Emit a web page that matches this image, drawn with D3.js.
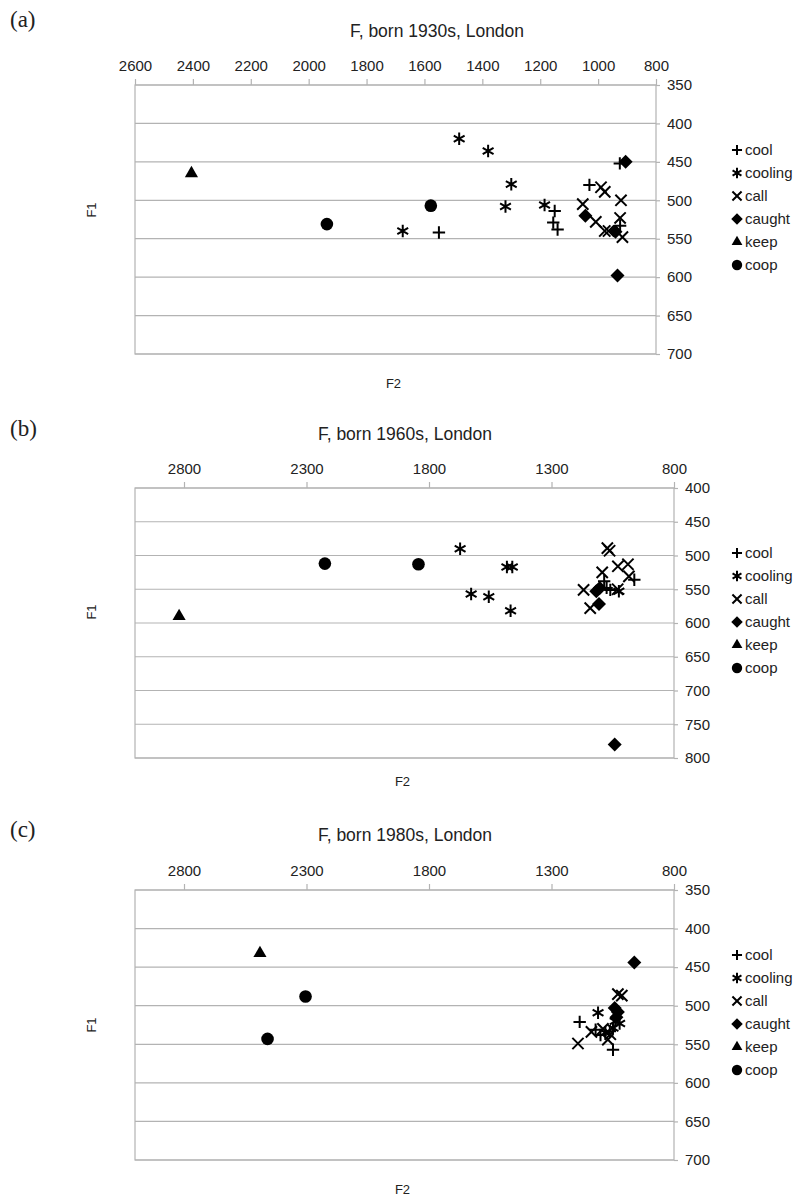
<!DOCTYPE html>
<html>
<head>
<meta charset="utf-8">
<script src="https://cdn.jsdelivr.net/npm/d3@7"></script>
<style>
  body { margin: 0; background: #fff; }
  text { font-family: "Liberation Sans", Arial, sans-serif; fill: #222; }
</style>
</head>
<body>
<script>
// Page size
const W = 803, H = 1201;

// Legend order
const categories = ["cool", "cooling", "call", "caught", "keep", "coop"];

// Panel titles and letters
const titles = ["F, born 1930s, London", "F, born 1960s, London", "F, born 1980s, London"];
const letters = ["(a)", "(b)", "(c)"];

// Tick labels
const ticksF2a = [2600, 2400, 2200, 2000, 1800, 1600, 1400, 1200, 1000, 800];
const ticksF2bc = [2800, 2300, 1800, 1300, 800];
const ticksF1a = [350, 400, 450, 500, 550, 600, 650, 700];
const ticksF1b = [400, 450, 500, 550, 600, 650, 700, 750, 800];
const ticksF1c = [350, 400, 450, 500, 550, 600, 650, 700];

// (a) 1930s  [F2, F1]
const aCool = [[1550, 542], [1150, 514], [1155, 529], [1140, 538], [1030, 480], [925, 452], [924, 533]];
const aCooling = [[1675, 540], [1480, 420], [1380, 436], [1300, 479], [1320, 508], [1185, 506]];
const aCall = [[1053, 505], [990, 483], [977, 489], [921, 500], [1008, 528], [977, 540], [964, 540], [924, 523], [916, 548]];
const aCaught = [[1044, 520], [905, 450], [940, 541], [933, 598]];
const aKeep = [[2405, 465]];
const aCoop = [[1937, 531], [1578, 507]];

// (b) 1960s
const bCool = [[1085, 538], [1075, 548], [1060, 551], [962, 536]];
const bCooling = [[1673, 490], [1482, 517], [1460, 517], [1628, 557], [1556, 561], [1467, 582], [1025, 553]];
const bCall = [[1072, 489], [1063, 493], [1029, 516], [988, 513], [984, 531], [1093, 525], [1169, 551], [1142, 578], [1030, 550]];
const bCaught = [[1117, 553], [1103, 548], [1106, 572], [1042, 780]];
const bKeep = [[2820, 590]];
const bCoop = [[2225, 512], [1843, 513]];

// (c) 1980s
const cCool = [[1185, 521], [1049, 557], [1120, 531], [1100, 538], [1062, 533]];
const cCooling = [[1110, 509], [1022, 523], [1049, 529], [1080, 535], [1040, 520]];
const cCall = [[1029, 485], [1013, 487], [1192, 549], [1137, 534], [1070, 544], [1060, 537], [1090, 530]];
const cCaught = [[962, 444], [1042, 503], [1029, 508], [1035, 515]];
const cKeep = [[2490, 432]];
const cCoop = [[2304, 488], [2459, 543]];

const panels = [
  { box: [135, 85, 656, 354], f2: [2600, 800], f1: [350, 700], f2Ticks: ticksF2a, f1Ticks: ticksF1a,
    series: [aCool, aCooling, aCall, aCaught, aKeep, aCoop], titleX: 437, titleY: 37, letterY: 27,
    legendX: 737, legendY: 150, f1Y: 210, f2Y: 388 },
  { box: [135, 488, 674, 758], f2: [3000, 800], f1: [400, 800], f2Ticks: ticksF2bc, f1Ticks: ticksF1b,
    series: [bCool, bCooling, bCall, bCaught, bKeep, bCoop], titleX: 405, titleY: 440, letterY: 436,
    legendX: 737, legendY: 553, f1Y: 612, f2Y: 786 },
  { box: [135, 890, 674, 1160], f2: [3000, 800], f1: [350, 700], f2Ticks: ticksF2bc, f1Ticks: ticksF1c,
    series: [cCool, cCooling, cCall, cCaught, cKeep, cCoop], titleX: 405, titleY: 841, letterY: 837,
    legendX: 737, legendY: 955, f1Y: 1025, f2Y: 1194 }
];

const svg = d3.select("body").append("svg").attr("width", W).attr("height", H);

// symbol per category: [type, size, filled]
const symbolDefs = [
  [d3.symbolPlus, 52, false],
  [d3.symbolAsterisk, 110, false],
  [d3.symbolTimes, 84, false],
  [d3.symbolDiamond2, 125, true],
  [d3.symbolTriangle, 75, true],
  [d3.symbolCircle, 125, true]
];

function drawMarker(g, i, scale) {
  const [type, size, filled] = symbolDefs[i];
  const p = g.append("path").attr("d", d3.symbol(type, size * scale * scale)());
  if (filled) p.attr("fill", "#000");
  else p.attr("fill", "none").attr("stroke", "#000").attr("stroke-width", 2);
  return p;
}

panels.forEach((p, pi) => {
  const [x0, y0, x1, y1] = p.box;
  const x = d3.scaleLinear().domain(p.f2).range([x0, x1]);
  const y = d3.scaleLinear().domain(p.f1).range([y0, y1]);
  const g = svg.append("g");

  // horizontal grid
  g.append("g")
    .selectAll("line")
    .data(p.f1Ticks)
    .join("line")
    .attr("x1", x0).attr("x2", x1)
    .attr("y1", (d) => y(d)).attr("y2", (d) => y(d))
    .attr("stroke", "#b3b3b3").attr("stroke-width", 1.2);

  // frame
  g.append("rect")
    .attr("x", x0).attr("y", y0)
    .attr("width", x1 - x0).attr("height", y1 - y0)
    .attr("fill", "none").attr("stroke", "#b3b3b3").attr("stroke-width", 1.2);

  // top F2 axis
  const xAxis = d3.axisTop(x).tickValues(p.f2Ticks).tickSize(6).tickPadding(8).tickFormat(d3.format("d"));
  const xa = g.append("g").attr("transform", `translate(0,${y0})`).call(xAxis);
  // right F1 axis
  const yAxis = d3.axisRight(y).tickValues(p.f1Ticks).tickSize(4).tickPadding(7).tickFormat(d3.format("d"));
  const ya = g.append("g").attr("transform", `translate(${x1},0)`).call(yAxis);
  [xa, ya].forEach((a) => {
    a.select(".domain").remove();
    a.selectAll(".tick line").attr("stroke", "#b3b3b3").attr("stroke-width", 1.2);
    a.selectAll(".tick text").attr("fill", "#222")
      .style("font-family", '"Liberation Sans", Arial, sans-serif').style("font-size", "15px");
  });

  // title, panel letter, axis labels
  g.append("text").attr("x", p.titleX).attr("y", p.titleY).attr("text-anchor", "middle")
    .style("font-size", "17.5px").text(titles[pi]);
  g.append("text").attr("x", 10).attr("y", p.letterY)
    .style("font-family", '"Liberation Serif", "Times New Roman", serif').style("font-size", "23px")
    .attr("fill", "#000").text(letters[pi]);
  g.append("text").attr("transform", `translate(96,${p.f1Y}) rotate(-90)`).attr("text-anchor", "middle")
    .style("font-size", "13px").text("F1");
  g.append("text").attr("x", (x0 + x1) / 2 - 2).attr("y", p.f2Y).attr("text-anchor", "middle")
    .style("font-size", "13px").text("F2");

  // points
  p.series.forEach((pts, si) => {
    pts.forEach((d) => {
      drawMarker(g, si, 1).attr("transform", `translate(${x(d[0])},${y(d[1])})`);
    });
  });

  // legend
  categories.forEach((c, si) => {
    const ly = p.legendY + si * 23;
    drawMarker(g, si, 0.82).attr("transform", `translate(${p.legendX},${ly})`);
    g.append("text").attr("x", p.legendX + 8).attr("y", ly + 5).style("font-size", "15px").text(c);
  });
});
</script>
</body>
</html>
